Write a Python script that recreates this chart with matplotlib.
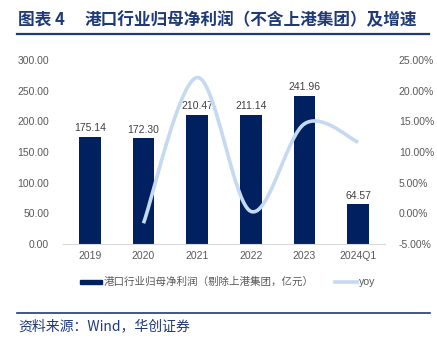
import numpy as np
import matplotlib
matplotlib.use("Agg")
import matplotlib.pyplot as plt
from matplotlib.lines import Line2D
from matplotlib.patches import Rectangle

plt.rcParams['font.family'] = ['Noto Sans CJK SC', 'DejaVu Sans']

categories = ['2019', '2020', '2021', '2022', '2023', '2024Q1']
profit = [175.14, 172.30, 210.47, 211.14, 241.96, 64.57]
yoy = [np.nan, -1.62, 22.15, 0.32, 14.60, 11.60]

bar_color = '#002060'
line_color = '#c5d9f1'
title_color = '#1f3a78'
tick_color = '#595959'

fig = plt.figure(figsize=(4.37, 3.40), dpi=100)
ax = fig.add_axes([63/437, 1-244/340, (385-63)/437, (244-60)/340])
ax2 = ax.twinx()

x = np.arange(len(categories))
ax.bar(x, profit, width=0.4, color=bar_color, zorder=2)
for xi, v in zip(x, profit):
    ax.text(xi, v + 6, f'{v:.2f}', ha='center', va='bottom', fontsize=7.5,
            color='#404040', family=['Liberation Sans', 'DejaVu Sans'])

ax.set_xlim(-0.5, len(categories) - 0.5)
ax.set_ylim(0, 300)
ax.set_yticks(np.arange(0, 301, 50))
ax.set_yticklabels([f'{v:.2f}' for v in np.arange(0, 301, 50)])
ax.set_xticks(x)
ax.set_xticklabels(categories)

# smoothed line (Catmull-Rom style like Excel)
px = [xi for xi, v in zip(x, yoy) if not np.isnan(v)]
py = [v for v in yoy if not np.isnan(v)]
pts = np.array(list(zip(px, py)), dtype=float)
curve = []
n = len(pts)
for i in range(n - 1):
    p0 = pts[i - 1] if i > 0 else pts[i]
    p1 = pts[i]
    p2 = pts[i + 1]
    p3 = pts[i + 2] if i + 2 < n else pts[i + 1]
    c1 = p1 + (p2 - p0) / 6
    c2 = p2 - (p3 - p1) / 6
    t = np.linspace(0, 1, 40)[:, None]
    seg = (1 - t) ** 3 * p1 + 3 * (1 - t) ** 2 * t * c1 + 3 * (1 - t) * t ** 2 * c2 + t ** 3 * p2
    curve.append(seg if i == 0 else seg[1:])
curve = np.vstack(curve)
ax2.plot(curve[:, 0], curve[:, 1], color=line_color, lw=2.6, solid_capstyle='butt', zorder=3)
ax2.set_ylim(-5, 25)
ax2.set_yticks(np.arange(-5, 26, 5))
ax2.set_yticklabels([f'{v:.2f}%' for v in np.arange(-5, 26, 5)])

for a in (ax, ax2):
    for s in a.spines.values():
        s.set_visible(False)
    a.tick_params(length=0, labelsize=7.5, colors=tick_color)
    for lab in a.get_xticklabels() + a.get_yticklabels():
        lab.set_family(['Liberation Sans', 'DejaVu Sans'])
ax.spines['bottom'].set_visible(True)
ax.spines['bottom'].set_color('#d9d9d9')
ax.tick_params(axis='x', pad=5)
ax.tick_params(axis='y', pad=10)
ax2.tick_params(axis='y', pad=10)
ax.set_zorder(1)
ax2.set_zorder(2)
ax2.patch.set_visible(False)

# legend (manual)
ly = 1 - 282/340
fig.patches.append(Rectangle((80/437, ly - 2/340), 22/437, 4/340, transform=fig.transFigure,
                             color=bar_color, figure=fig))
fig.text(104/437, ly, '港口行业归母净利润（剔除上港集团，亿元）', fontsize=7.6,
         color=tick_color, va='center', ha='left')
fig.lines.append(Line2D([335/437, 357/437], [ly, ly], transform=fig.transFigure,
                        color=line_color, lw=2.6, figure=fig))
fig.text(359/437, ly, 'yoy', fontsize=7.6, color=tick_color, va='center', ha='left',
         family=['Liberation Sans', 'DejaVu Sans'])

# title
fig.text(18/437, 1-20/340, '图表 4', fontsize=12, fontweight='bold', color=title_color,
         va='center', ha='left')
fig.text(85/437, 1-20/340, '港口行业归母净利润（不含上港集团）及增速', fontsize=12,
         fontweight='bold', color=title_color, va='center', ha='left')
fig.lines.append(Line2D([17/437, 429/437], [1-33.5/340, 1-33.5/340], transform=fig.transFigure,
                        color=title_color, lw=1.6, figure=fig))
fig.lines.append(Line2D([17/437, 430/437], [1-312.5/340, 1-312.5/340], transform=fig.transFigure,
                        color=title_color, lw=1.2, figure=fig))
fig.text(18/437, 1-326/340, '资料来源：Wind，华创证券', fontsize=10, style='italic',
         color=title_color, va='center', ha='left')

fig.savefig('out.png', dpi=100)
